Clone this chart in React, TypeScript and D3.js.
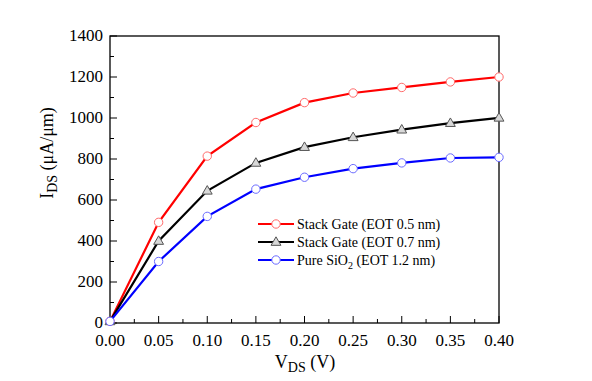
import React from "react";
import * as d3 from "d3";

const vds = [0, 0.05, 0.1, 0.15, 0.2, 0.25, 0.3, 0.35, 0.4];
const stack05 = [8, 491, 814, 978, 1075, 1122, 1149, 1176, 1200];
const stack07 = [8, 400, 645, 781, 858, 906, 943, 975, 1001];
const pureSiO2 = [8, 300, 520, 653, 711, 753, 781, 805, 808];
const xTicks = [0, 0.05, 0.1, 0.15, 0.2, 0.25, 0.3, 0.35, 0.4];
const yTicks = [0, 200, 400, 600, 800, 1000, 1200, 1400];

const series = [
  { name: "Stack Gate (EOT 0.5 nm)", values: stack05, color: "#ff0000", mStroke: "#ff6a6a", marker: "circle" },
  { name: "Stack Gate (EOT 0.7 nm)", values: stack07, color: "#000000", mStroke: "#555555", marker: "triangle" },
  { name: "Pure SiO2 (EOT 1.2 nm)", values: pureSiO2, color: "#0000ff", mStroke: "#6a6aff", marker: "circle" },
];

const L = 110, R = 499, T = 36, B = 323;
const FONT = "'Liberation Serif', 'Times New Roman', serif";

function Marker({ type, x, y, stroke }: { type: string; x: number; y: number; stroke: string }) {
  if (type === "triangle") {
    const p = d3.symbol().type(d3.symbolTriangle).size(42)();
    return <path d={p || ""} transform={`translate(${x},${y + 0.5})`} fill="#d8d8d8" stroke={stroke} strokeWidth={1} />;
  }
  return <circle cx={x} cy={y} r={4.2} fill="#ffffff" stroke={stroke} strokeWidth={1} />;
}

export default function App() {
  const x = d3.scaleLinear().domain([0, 0.4]).range([L, R]);
  const y = d3.scaleLinear().domain([0, 1400]).range([B, T]);
  const line = d3.line<number>().x((_, i) => x(vds[i])).y((d) => y(d));
  const xMinor = d3.range(0, 0.4001, 0.025);
  const yMinor = d3.range(0, 1401, 100);

  return (
    <svg width={592} height={381} style={{ position: "absolute", left: 0, top: 0 }} fontFamily={FONT}>
      <rect width={592} height={381} fill="#fff" />
      {xMinor.map((t, i) => (
        <line key={"xm" + i} x1={x(t)} x2={x(t)} y1={B} y2={B - (i % 2 === 0 ? 7 : 4)} stroke="#000" strokeWidth={1} />
      ))}
      {yMinor.map((t, i) => (
        <line key={"ym" + i} x1={L} x2={L + (i % 2 === 0 ? 7 : 4)} y1={y(t)} y2={y(t)} stroke="#000" strokeWidth={1} />
      ))}
      <rect x={L} y={T} width={R - L} height={B - T} fill="none" stroke="#000" strokeWidth={1.3} />
      {xTicks.map((t) => (
        <text key={"xt" + t} x={x(t)} y={346} fontSize={17} textAnchor="middle">{t.toFixed(2)}</text>
      ))}
      {yTicks.map((t) => (
        <text key={"yt" + t} x={103} y={y(t) + 5} fontSize={17} textAnchor="end">{t}</text>
      ))}
      <text x={305} y={368} fontSize={18} textAnchor="middle">
        V<tspan fontSize={14} dy={4}>DS</tspan><tspan dy={-4}> (V)</tspan>
      </text>
      <text transform="translate(53,153) rotate(-90)" fontSize={18} textAnchor="middle">
        I<tspan fontSize={14} dy={4}>DS</tspan><tspan dy={-4}> (μA/μm)</tspan>
      </text>
      {series.map((s) => (
        <g key={s.name}>
          <path d={line(s.values) || ""} fill="none" stroke={s.color} strokeWidth={2.2} />
          {s.values.map((v, i) => (
            <Marker key={i} type={s.marker} x={x(vds[i])} y={y(v)} stroke={s.mStroke} />
          ))}
        </g>
      ))}
      {series.map((s, i) => {
        const ly = 224 + i * 18;
        return (
          <g key={"lg" + i}>
            <line x1={258} x2={294} y1={ly} y2={ly} stroke={s.color} strokeWidth={2.2} />
            <Marker type={s.marker} x={276} y={ly} stroke={s.mStroke} />
            <text x={297} y={ly + 5} fontSize={14}>
              {i === 2 ? (
                <>Pure SiO<tspan fontSize={10} dy={4}>2</tspan><tspan dy={-4}> (EOT 1.2 nm)</tspan></>
              ) : s.name}
            </text>
          </g>
        );
      })}
    </svg>
  );
}
